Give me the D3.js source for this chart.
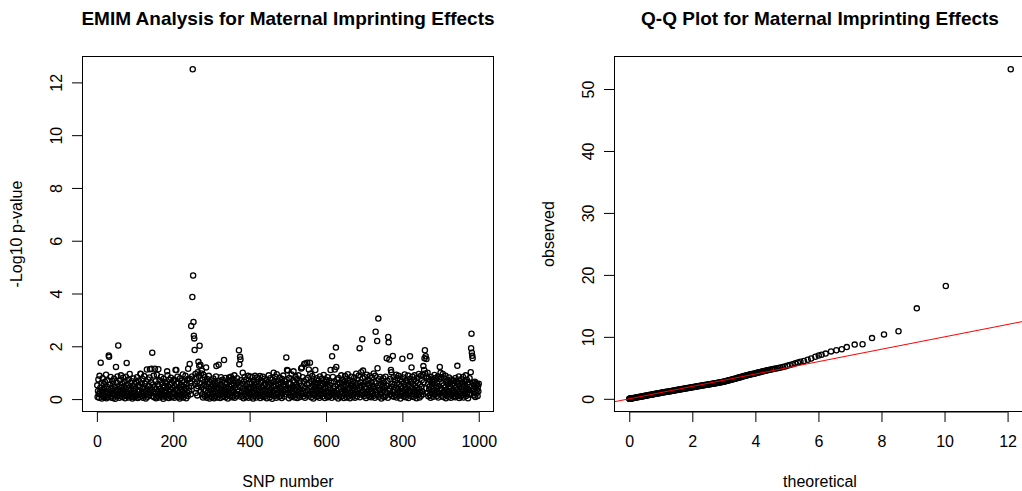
<!DOCTYPE html>
<html>
<head>
<meta charset="utf-8">
<script src="https://cdn.jsdelivr.net/npm/d3@7"></script>
<style>
body{margin:0;background:#fff;}
text{font-family:"Liberation Sans",Arial,sans-serif;fill:#000;}
</style>
</head>
<body>
<div id="vis"></div>
<script>
// -log10 p-value for SNP 1..1000
var logP = [
.52,.08,.31,.74,.19,.05,.88,.27,.43,1.38,.16,.61,.02,.35,.79,.24,.11,.57,.40,.07,.66,.29,.14,.92,.03,.48,.21,.71,.09,.37,1.65,1.60,.18,.55,.26,.84,.06,.42,.13,.69,.31,.04,.58,.22,.77,.15,.46,.01,.33,1.22,
.25,.63,.10,.86,.38,2.03,.17,.50,.05,.72,.28,.12,.90,.44,.20,.59,.08,.35,.81,.23,.47,.14,.66,.03,.39,.85,.27,1.37,.11,.54,.19,.73,.06,.42,.30,.95,.16,.61,.09,.36,.68,.22,.02,.49,.13,.78,.32,.07,.57,.24,
.41,.10,.64,.18,.83,.29,.04,.52,.15,.70,.33,.08,.47,.96,.95,.21,.60,.12,.38,.76,.05,.44,.25,.87,.14,.58,.31,.02,.67,.19,1.12,.36,.09,.74,.27,.50,.16,.82,1.13,.40,.23,.63,1.15,.34,1.76,.11,.55,.30,.89,.07,
.45,1.15,.20,.68,.03,.37,.92,.13,.56,.26,1.13,.48,.06,.71,.22,.39,.15,.84,.31,.09,.62,.18,.43,.01,.77,.28,.51,.12,.66,.35,.08,.59,.24,1.05,.90,.17,.46,.04,.73,.30,.14,.54,.37,.81,.07,.63,.21,.42,.10,.69,
.27,.74,.05,.49,.19,1.10,.36,1.10,.58,.13,.85,.32,.08,.61,.24,.45,.02,.79,.16,.53,.38,.11,.70,.29,.93,.06,.47,.21,.64,.34,.15,.88,.41,.03,.56,.25,.72,.12,1.15,.77,.44,.31,1.33,.77,.62,.18,2.77,.50,.86,3.87,
12.5,4.68,2.92,2.40,2.30,1.86,.57,.95,.23,.81,.40,.67,.14,1.02,.49,1.41,.88,1.26,2.02,.61,1.30,.29,.97,.45,1.08,.18,.73,.06,.92,.36,.54,.83,.11,.67,.32,1.20,.48,.05,.76,.25,.59,.15,.88,.39,.02,.64,.21,.47,.10,.71,
.34,.08,.56,.19,.78,.42,.03,.65,.27,.50,.13,.86,1.25,.37,.06,.60,.22,.45,1.30,.16,.69,.31,.04,.54,.83,.18,.40,.09,.73,.26,.49,.12,1.48,.35,.62,.07,.80,.23,.44,.15,.58,.30,.02,.71,.19,.82,.47,.11,.66,.38,
.85,.24,.52,.07,.76,.33,.14,.61,.28,.90,.05,.43,.68,.20,.55,.11,.79,.37,.17,.64,.29,1.85,1.32,.46,1.60,1.50,.09,.72,.25,.58,.13,1.00,.40,.03,.67,.31,.84,.19,.48,.08,.74,.36,.12,.57,.27,.88,.05,.44,.22,.63,
.16,.86,.38,.09,.59,.24,.83,.47,.02,.70,.30,.13,.55,.88,.21,.41,.06,.65,.34,.82,.18,.50,.75,.11,.39,.27,.87,.04,.61,.23,.45,.14,.69,.32,.85,.08,.53,.20,.77,.36,.10,.58,.26,.72,.03,.48,.17,.64,.31,.90,
.22,.54,.07,.79,.35,.15,.62,.41,.01,.73,.28,.47,1.00,.12,.66,.33,.85,.19,.51,.05,.94,.38,.16,.70,.25,.57,.09,.44,.81,.30,.13,.63,.37,.04,.76,.21,.52,.89,.27,.46,.10,.68,.34,.55,.18,1.58,.74,1.10,.40,1.08,
.24,.61,.03,.80,.36,.15,.57,.42,.09,.93,.29,.48,.12,.71,1.05,.20,.64,.06,.39,.85,.17,.53,.32,.76,.04,.45,.26,.90,.14,.60,.37,.08,.69,.23,1.16,.50,1.20,.19,.83,.31,.11,.66,1.33,.42,.05,1.35,.27,.74,.16,.55,
1.38,.34,.81,.13,1.12,.59,.21,1.38,.96,.45,.07,.68,.30,.87,.18,.52,.02,.75,.39,.15,.63,1.10,.26,.47,.09,.79,.35,.58,.12,.70,.22,.44,.05,.86,.33,.61,.17,.50,.28,.77,.10,.56,.38,.91,.20,.65,.04,.42,.27,.73,
.31,.14,.58,.83,.07,.46,.25,.70,.11,.52,.36,1.10,.19,.62,.05,1.62,.29,.84,.40,.16,.67,.23,1.12,.48,.09,1.95,1.22,.33,.74,.18,.55,.02,.80,.37,.14,.63,.26,.45,.08,.90,.30,.59,.12,.72,.21,.49,.04,.66,.35,.87,
.17,.53,.28,.76,.06,.41,.94,.22,.60,.13,.38,.71,.03,.50,.24,.85,.15,.57,.32,.09,.68,.44,.19,.82,.36,.05,.61,.27,.96,.48,.11,.74,.33,.58,.20,.89,.42,1.93,.07,.64,.26,1.02,.51,.16,2.27,.79,1.08,.30,.55,.12,
.45,.83,.21,.67,.04,.39,.92,.26,.58,.15,.72,.34,.10,.53,.87,.19,.46,.07,.63,.30,.81,.23,.50,.12,.97,.38,.66,.05,.88,2.55,.29,.60,.16,2.20,1.17,.43,3.05,.75,.09,.52,.33,.84,.18,.57,.02,.70,.25,.48,.11,.79,
.36,.62,.08,.44,.27,.85,.14,.51,1.55,.22,.69,.05,2.35,2.15,.40,1.50,.31,.76,.18,1.10,1.02,.47,.12,.58,1.63,.26,.83,.09,.54,.35,.71,.16,.43,.92,.06,.60,.24,.79,.37,.88,.13,.56,.29,.74,.02,.49,.20,.67,.41,1.53,
.25,.82,.10,.58,.34,.93,.17,.46,.07,.71,.38,.15,.63,.27,.89,.04,.52,.21,.76,1.62,.31,.66,.12,1.20,.44,.85,.19,.57,.08,.73,.35,.90,.23,.50,.14,.68,.03,.42,.80,.28,.61,.17,.95,.39,.06,.55,.26,.87,.13,.47,
.72,.30,.93,.18,1.25,.64,1.10,1.55,1.85,.97,1.62,.41,1.52,.86,.23,1.00,.57,.11,.78,.36,.48,.15,.69,.05,.84,.27,.59,.20,.73,.38,.09,.66,.32,.91,.17,.54,.25,.80,.43,.12,.62,.28,.86,.06,.49,.21,.75,1.22,.35,1.00,
.41,.83,.13,.60,.24,.95,.08,.52,.30,.77,.18,.45,.88,.03,.66,.34,.14,.71,.27,.56,.09,.82,.39,.20,.63,.47,.05,.74,.31,.58,.16,.69,.36,.11,.70,.25,.53,.07,.80,.42,.19,.64,.33,1.26,.13,.57,.28,.86,.04,.50,
.22,.61,.10,.75,.37,.15,.58,.29,.84,.06,.45,.68,.19,.53,.32,.90,.12,.40,.72,.25,.56,.03,.64,.34,.17,.79,.47,.21,1.02,1.93,2.48,1.76,1.64,1.55,.38,.62,.14,.51,.27,.66,.08,.43,.59,.23,.35,.55,.12,.48,.30,.58
];

// Q-Q plot points (theoretical vs observed)
var qqTheoretical = [
0.00,0.01,0.02,0.03,0.05,0.07,0.09,0.11,0.14,0.17,0.20,0.23,0.26,0.29,0.32,0.35,0.38,0.41,0.44,0.47,
0.50,0.53,0.56,0.59,0.62,0.65,0.68,0.71,0.74,0.77,0.80,0.83,0.86,0.89,0.92,0.95,0.98,1.01,1.04,1.07,
1.10,1.13,1.16,1.19,1.22,1.25,1.28,1.31,1.34,1.37,1.40,1.43,1.46,1.49,1.52,1.55,1.58,1.61,1.64,1.67,
1.70,1.73,1.76,1.79,1.82,1.85,1.88,1.91,1.94,1.97,2.00,2.03,2.06,2.09,2.12,2.15,2.18,2.21,2.24,2.27,
2.30,2.33,2.36,2.39,2.42,2.45,2.48,2.51,2.54,2.57,2.60,2.63,2.66,2.69,2.72,2.75,2.78,2.81,2.84,2.87,
2.90,2.93,2.96,2.99,3.02,3.05,3.08,3.11,3.14,3.17,3.20,3.23,3.26,3.29,3.32,3.35,3.38,3.41,3.44,3.47,
3.50,3.53,3.56,3.59,3.62,3.65,3.68,3.71,3.74,3.77,3.80,3.83,3.86,3.89,3.92,3.95,3.98,4.01,4.05,4.09,
4.13,4.17,4.21,4.25,4.29,4.33,4.37,4.42,4.47,4.52,4.57,4.62,4.68,4.74,4.80,4.87,4.94,5.01,5.09,5.18,
5.27,5.35,5.43,5.54,5.66,5.77,5.90,6.01,6.10,6.23,6.40,6.57,6.74,6.90,7.15,7.40,7.70,8.08,8.54,9.12,
10.04,12.10
];
var qqObserved = [
0.00,0.01,0.02,0.03,0.05,0.07,0.09,0.11,0.13,0.16,0.19,0.22,0.25,0.28,0.31,0.34,0.36,0.39,0.42,0.45,
0.48,0.51,0.54,0.57,0.60,0.62,0.65,0.68,0.71,0.74,0.77,0.80,0.83,0.85,0.88,0.91,0.94,0.97,1.00,1.02,
1.05,1.08,1.11,1.13,1.16,1.19,1.22,1.24,1.27,1.30,1.32,1.35,1.38,1.41,1.43,1.46,1.49,1.51,1.54,1.57,
1.60,1.62,1.65,1.68,1.70,1.73,1.76,1.78,1.81,1.84,1.86,1.89,1.92,1.94,1.97,2.00,2.02,2.05,2.08,2.10,
2.13,2.16,2.18,2.21,2.24,2.26,2.29,2.32,2.34,2.37,2.40,2.42,2.45,2.48,2.50,2.53,2.56,2.58,2.61,2.64,
2.67,2.70,2.73,2.76,2.80,2.84,2.88,2.92,2.96,3.00,3.04,3.08,3.12,3.16,3.20,3.25,3.29,3.33,3.38,3.42,
3.46,3.50,3.55,3.59,3.63,3.67,3.71,3.75,3.79,3.83,3.87,3.91,3.95,3.99,4.02,4.06,4.10,4.14,4.19,4.24,
4.29,4.34,4.39,4.44,4.49,4.54,4.59,4.65,4.70,4.76,4.82,4.87,4.93,4.99,5.05,5.13,5.22,5.33,5.45,5.58,
5.72,5.86,6.00,6.10,6.30,6.50,6.80,7.00,7.10,7.30,7.65,7.85,8.00,8.35,8.75,8.80,9.80,10.40,10.90,14.60,
18.20,53.20
];

var leftXTicks = [0,200,400,600,800,1000];
var leftYTicks = [0,2,4,6,8,10,12];
var rightXTicks = [0,2,4,6,8,10,12];
var rightYTicks = [0,10,20,30,40,50];

var snpNumber = d3.range(1, logP.length + 1);

var svg = d3.select("#vis").append("svg")
.attr("width",1022)
.attr("height",491);

// R style axis range: data range widened by 4% each side
function rRange(lo, hi){
  var d = (hi - lo) * 0.04;
  return [lo - d, hi + d];
}

function panel(opt){
  var x = d3.scaleLinear().domain(opt.xDomain).range([opt.left, opt.left + 412]);
  var y = d3.scaleLinear().domain(opt.yDomain).range([412, 56]);
  var g = svg.append("g");

  g.append("clipPath").attr("id", opt.id + "-clip")
  .append("rect").attr("x", opt.left).attr("y", 56).attr("width", 412).attr("height", 356);

  var plot = g.append("g").attr("clip-path", "url(#" + opt.id + "-clip)");

  plot.selectAll("circle")
  .data(opt.xs)
  .enter().append("circle")
  .attr("cx", function(d){ return x(d); })
  .attr("cy", function(d, i){ return y(opt.ys[i]); })
  .attr("r", 2.6)
  .attr("fill", "none")
  .attr("stroke", "#000")
  .attr("stroke-width", 1.3);

  if (opt.abline) {
    plot.append("line")
    .attr("x1", x(opt.xDomain[0])).attr("y1", y(opt.xDomain[0]))
    .attr("x2", x(opt.xDomain[1])).attr("y2", y(opt.xDomain[1]))
    .attr("stroke", "#ff0000")
    .attr("stroke-width", 1);
  }

  var xAxis = g.append("g")
  .attr("transform", "translate(0,412)")
  .call(d3.axisBottom(x).tickValues(opt.xTicks).tickSize(10).tickPadding(14).tickFormat(d3.format("d")));
  xAxis.select(".domain").remove();
  xAxis.append("line")
  .attr("x1", x(opt.xTicks[0])).attr("x2", x(opt.xTicks[opt.xTicks.length - 1]))
  .attr("stroke", "#000");
  xAxis.selectAll("text").style("font-size", "16px").attr("fill", "#000");

  var yAxis = g.append("g")
  .attr("transform", "translate(" + opt.left + ",0)")
  .call(d3.axisLeft(y).tickValues(opt.yTicks).tickSize(10).tickFormat(d3.format("d")));
  yAxis.select(".domain").remove();
  yAxis.selectAll("text")
  .attr("transform", "rotate(-90)")
  .attr("x", 0).attr("y", -20).attr("dy", 0)
  .style("text-anchor", "middle")
  .style("font-size", "16px")
  .attr("fill", "#000");
  g.selectAll(".tick line").attr("stroke", "#000");

  g.append("rect")
  .attr("x", opt.left + 0.5).attr("y", 56.5)
  .attr("width", 411).attr("height", 355)
  .attr("fill", "none").attr("stroke", "#000").attr("stroke-width", 1);

  g.append("text").text(opt.title)
  .attr("x", opt.left + 206).attr("y", 25)
  .style("text-anchor", "middle").style("font-size", "19px").style("font-weight", "bold");

  g.append("text").text(opt.xLabel)
  .attr("x", opt.left + 206).attr("y", 487)
  .style("text-anchor", "middle").style("font-size", "16px");

  g.append("text").text(opt.yLabel)
  .attr("transform", "translate(" + (opt.left - 60) + ",234)rotate(-90)")
  .style("text-anchor", "middle").style("font-size", "16px");
}

panel({
  id: "emim", left: 82, xs: snpNumber, ys: logP,
  xDomain: rRange(1, logP.length), yDomain: rRange(d3.min(logP), d3.max(logP)),
  xTicks: leftXTicks, yTicks: leftYTicks,
  title: "EMIM Analysis for Maternal Imprinting Effects",
  xLabel: "SNP number", yLabel: "-Log10 p-value"
});

panel({
  id: "qq", left: 614, xs: qqTheoretical, ys: qqObserved, abline: true,
  xDomain: rRange(d3.min(qqTheoretical), d3.max(qqTheoretical)),
  yDomain: rRange(d3.min(qqObserved), d3.max(qqObserved)),
  xTicks: rightXTicks, yTicks: rightYTicks,
  title: "Q-Q Plot for Maternal Imprinting Effects",
  xLabel: "theoretical", yLabel: "observed"
});
</script>
</body>
</html>
